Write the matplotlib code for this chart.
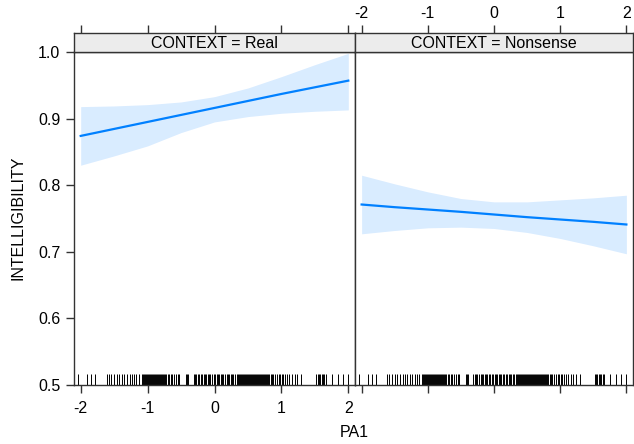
import matplotlib
matplotlib.use("Agg")
import matplotlib.pyplot as plt
import matplotlib.transforms as mtransforms

plt.rcParams['font.family'] = ['Liberation Sans', 'DejaVu Sans']

# ---- data ----
panels = ["Real", "Nonsense"]
x_grid = [-2, -1.5, -1, -0.5, 0, 0.5, 1, 1.5, 2]
fit_real = [0.874, 0.8845, 0.895, 0.9055, 0.916, 0.9265, 0.937, 0.947, 0.957]
lower_real = [0.830, 0.844, 0.859, 0.879, 0.895, 0.903, 0.908, 0.911, 0.913]
upper_real = [0.918, 0.919, 0.921, 0.925, 0.933, 0.946, 0.963, 0.981, 0.998]
fit_non = [0.771, 0.767, 0.7635, 0.760, 0.756, 0.752, 0.7485, 0.745, 0.741]
lower_non = [0.727, 0.732, 0.736, 0.737, 0.735, 0.729, 0.720, 0.709, 0.697]
upper_non = [0.815, 0.802, 0.790, 0.780, 0.775, 0.775, 0.778, 0.781, 0.785]

rug_pa1 = [
    -2.04, -1.90, -1.84, -1.78,
    -1.61, -1.58, -1.54, -1.50, -1.46, -1.42, -1.38, -1.35, -1.31, -1.27,
    -1.24, -1.20, -1.17, -1.13,
    -1.09, -1.075, -1.06, -1.045, -1.03, -1.015, -1.00, -0.985, -0.97, -0.955,
    -0.94, -0.925, -0.91, -0.895, -0.88, -0.865, -0.85, -0.835, -0.82, -0.805,
    -0.79, -0.775, -0.76, -0.745, -0.73,
    -0.70, -0.68, -0.65, -0.63, -0.60, -0.58, -0.55, -0.53,
    -0.43, -0.41, -0.39,
    -0.31, -0.29, -0.27, -0.25, -0.23,
    -0.20, -0.18, -0.16, -0.14, -0.12, -0.10, -0.08, -0.06, -0.03, -0.01,
    0.01, 0.03, 0.05, 0.07, 0.09, 0.11, 0.13, 0.15, 0.18, 0.20, 0.22, 0.24,
    0.26, 0.28, 0.30, 0.33, 0.35, 0.37,
    0.38, 0.395, 0.41, 0.425, 0.44, 0.455, 0.47, 0.485, 0.50, 0.515, 0.53,
    0.545, 0.56, 0.575, 0.59, 0.605, 0.62, 0.635, 0.65, 0.665, 0.68, 0.695,
    0.71, 0.725, 0.74, 0.755, 0.77, 0.785, 0.80, 0.815,
    0.84, 0.86, 0.88, 0.91, 0.93, 0.96, 0.98, 1.01, 1.03, 1.06, 1.09, 1.12,
    1.16, 1.20, 1.24, 1.30,
    1.52, 1.54, 1.56, 1.58, 1.60, 1.62, 1.64, 1.66,
    1.75, 1.85, 1.92, 1.99,
]

fits = [fit_real, fit_non]
lowers = [lower_real, lower_non]
uppers = [upper_real, upper_non]

x_ticks = [-2, -1, 0, 1, 2]
x_tick_labels = ["-2", "-1", "0", "1", "2"]
y_ticks = [0.5, 0.6, 0.7, 0.8, 0.9, 1.0]
y_tick_labels = ["0.5", "0.6", "0.7", "0.8", "0.9", "1.0"]

# ---- layout ----
W, H = 634, 444
fig = plt.figure(figsize=(W / 100, H / 100), dpi=100)

frame_col = "#333333"
line_col = "#0080ff"
tick_len = 8 * 72 / 100
fs = 11.5

panel_x = [(74, 355), (355, 633)]
plot_top, plot_bot = 52, 385
strip_top = 33

for i, name in enumerate(panels):
    x0, x1 = panel_x[i]
    ax = fig.add_axes([x0 / W, (H - plot_bot) / H, (x1 - x0) / W, (plot_bot - plot_top) / H])
    sax = fig.add_axes([x0 / W, (H - plot_top) / H, (x1 - x0) / W, (plot_top - strip_top) / H])

    ax.fill_between(x_grid, lowers[i], uppers[i], color=line_col, alpha=0.15, linewidth=0)
    ax.plot(x_grid, fits[i], color=line_col, lw=1.6)
    trans = mtransforms.blended_transform_factory(ax.transData, ax.transAxes)
    ax.vlines(rug_pa1, 0, 0.033, transform=trans, color="black", lw=0.7)

    ax.set_xlim(-2.1, 2.1)
    ax.set_ylim(0.5, 1.0)
    ax.set_xticks(x_ticks)
    ax.set_yticks(y_ticks)
    for sp in ax.spines.values():
        sp.set_color(frame_col)
        sp.set_linewidth(1.0)
    ax.tick_params(direction="out", length=tick_len, color=frame_col, width=1.0,
                   labelsize=fs)
    ax.tick_params(axis="x", pad=6)
    ax.tick_params(axis="y", pad=4)
    if i == 0:
        ax.set_xticklabels(x_tick_labels)
        ax.set_yticklabels(y_tick_labels)
    else:
        ax.set_xticklabels([])
        ax.tick_params(axis="y", left=False, labelleft=False)

    # strip
    sax.set_facecolor("#ececec")
    sax.set_xlim(-2.1, 2.1)
    sax.set_ylim(0, 1)
    sax.set_yticks([])
    sax.set_xticks(x_ticks)
    sax.xaxis.tick_top()
    sax.tick_params(axis="x", direction="out", length=tick_len, color=frame_col,
                    width=1.0, labelsize=fs, pad=3, bottom=False)
    if i == 1:
        sax.set_xticklabels(x_tick_labels)
    else:
        sax.set_xticklabels([])
    for sp in sax.spines.values():
        sp.set_color(frame_col)
        sp.set_linewidth(1.0)
    sax.text(0.5, 0.45, f"CONTEXT = {name}", transform=sax.transAxes,
             ha="center", va="center", fontsize=fs, color="black")

fig.text(354 / W, 1 - 432 / H, "PA1", ha="center", va="center", fontsize=fs)
fig.text(18 / W, 1 - 218 / H, "INTELLIGIBILITY", ha="center", va="center",
         rotation=90, fontsize=fs)

fig.savefig("out.png", dpi=100)
